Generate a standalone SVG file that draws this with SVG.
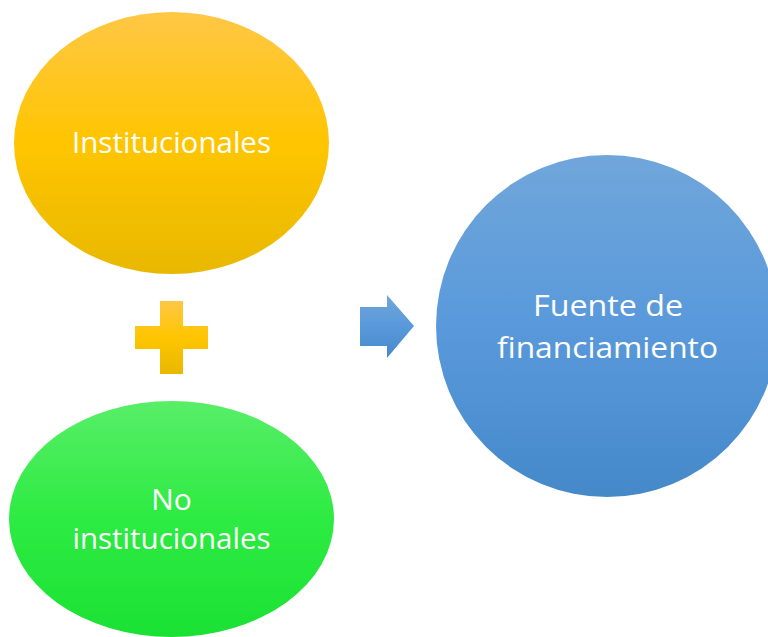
<svg xmlns="http://www.w3.org/2000/svg" width="768" height="637" viewBox="0 0 768 637">
<defs>
<linearGradient id="gOrange" x1="0" y1="0" x2="0" y2="1">
<stop offset="0" stop-color="#FFC746"/>
<stop offset="0.5" stop-color="#FFC500"/>
<stop offset="1" stop-color="#E8B800"/>
</linearGradient>
<linearGradient id="gGreen" x1="0" y1="0" x2="0" y2="1">
<stop offset="0" stop-color="#58EE68"/>
<stop offset="0.5" stop-color="#2DEB42"/>
<stop offset="1" stop-color="#1BE134"/>
</linearGradient>
<linearGradient id="gBlue" x1="0" y1="0" x2="0" y2="1">
<stop offset="0" stop-color="#70A6DA"/>
<stop offset="0.5" stop-color="#5999DB"/>
<stop offset="1" stop-color="#4589C9"/>
</linearGradient>
<style>
.lbl{font-family:"Open Sans","Noto Sans","Liberation Sans",sans-serif;font-size:30px;fill:#FFFFFF;text-anchor:middle}
</style>
</defs>
<g id="institucionales">
<ellipse cx="171.5" cy="143" rx="157.5" ry="131" fill="url(#gOrange)"/>
<text class="lbl" x="171.5" y="153" textLength="199" lengthAdjust="spacingAndGlyphs">Institucionales</text>
</g>
<g id="no-institucionales">
<ellipse cx="171.5" cy="519" rx="162.5" ry="118" fill="url(#gGreen)"/>
<text class="lbl" x="171.5" y="510">No</text>
<text class="lbl" x="171.5" y="549" textLength="198" lengthAdjust="spacingAndGlyphs">institucionales</text>
</g>
<g id="fuente">
<ellipse cx="607" cy="326" rx="171" ry="171" fill="url(#gBlue)"/>
<text class="lbl" x="608" y="316" textLength="150" lengthAdjust="spacingAndGlyphs">Fuente de</text>
<text class="lbl" x="607.5" y="358" textLength="221" lengthAdjust="spacingAndGlyphs">financiamiento</text>
</g>
<g id="plus">
<path d="M160 301 H183 V326 H208 V349 H183 V374 H160 V349 H135 V326 H160 Z" fill="url(#gOrange)"/>
</g>
<g id="connectors">
<path d="M360 307 H387 V295 L414 326 L387 358 V346 H360 Z" fill="url(#gBlue)"/>
</g>
</svg>
